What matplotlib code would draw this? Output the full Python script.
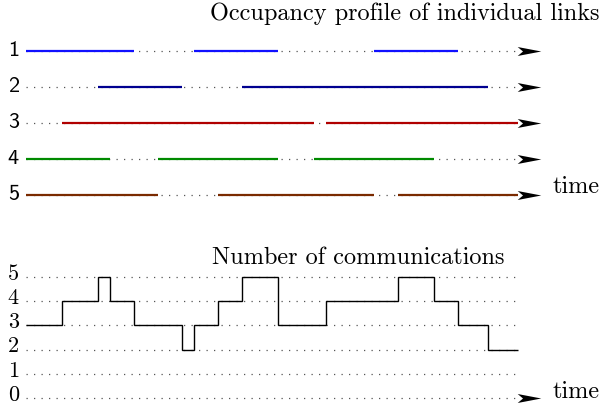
import matplotlib
matplotlib.use("Agg")
import matplotlib.pyplot as plt
from matplotlib.path import Path
import numpy as np

# ---------------- data ----------------
link_names = ["1", "2", "3", "4", "5"]
link_colors = ["#1010ff", "#000090", "#b00000", "#008a00", "#7a2a00"]
# busy intervals (start, end) in time units for each link
link1_on = [(0, 9), (14, 21), (29, 36)]
link2_on = [(6, 13), (18, 38.5)]
link3_on = [(3, 24), (25, 41)]
link4_on = [(0, 7), (11, 21), (24, 34)]
link5_on = [(0, 11), (16, 29), (31, 41)]
links_on = [link1_on, link2_on, link3_on, link4_on, link5_on]
t_end = 41

# number of communications (step function)
count_times = [0, 3, 6, 7, 9, 13, 14, 16, 18, 21, 25, 31, 34, 36, 38.5, 41]
count_values = [3, 4, 5, 4, 3, 2, 3, 4, 5, 3, 4, 5, 4, 3, 2]
count_levels = [0, 1, 2, 3, 4, 5]

title_top = "Occupancy profile of individual links"
title_bottom = "Number of communications"
time_label = "time"

# ---------------- figure ----------------
W, H = 603, 404
fig = plt.figure(figsize=(W / 100, H / 100), dpi=100)

px_per_t = 12.0
x0 = 26.0
xlim = (-x0 / px_per_t, (W - x0) / px_per_t)

# arrow marker (stealth-like)
arrow_path = Path([(1, 0), (-1, 0.38), (-0.55, 0), (-1, -0.38), (1, 0)],
                  [Path.MOVETO, Path.LINETO, Path.LINETO, Path.LINETO, Path.CLOSEPOLY])
arrow_t = (528.5 - x0) / px_per_t

dot_style = dict(color="#555555", lw=0.9, linestyle=(0, (1, 5.0)))
serif_size = 17.5
label_x = (19 - x0) / px_per_t

# top axes: pixels 0..222
top_h = 222
axt = fig.add_axes([0, 1 - top_h / H, 1, top_h / H])
y_first, y_step = 51.0, 36.0
axt.set_xlim(*xlim)
axt.set_ylim(1 + (top_h - y_first) / y_step, 1 - y_first / y_step)
axt.axis("off")

for k, (name, col, ons) in enumerate(zip(link_names, link_colors, links_on)):
    y = k + 1
    axt.plot([0, t_end], [y, y], **dot_style, zorder=1)
    for (a, b) in ons:
        axt.plot([a, b], [y, y], color=col, lw=1.6, solid_capstyle="butt", zorder=2)
    axt.plot([arrow_t], [y], marker=arrow_path, markersize=17, color="black",
             markeredgewidth=0, zorder=3)
    axt.text(label_x, y - 1.0 / y_step, name, family="cmss10", fontsize=16,
             ha="right", va="center")

# bottom axes: pixels 222..404
bot_top = 222
axb = fig.add_axes([0, 0, 1, (H - bot_top) / H])
v0_px, v_step = 398.0, 24.2
axb.set_xlim(*xlim)
axb.set_ylim(-(H - v0_px) / v_step, (v0_px - bot_top) / v_step)
axb.axis("off")

for lv in count_levels:
    axb.plot([0, t_end], [lv, lv], **dot_style, zorder=1)
    axb.text(label_x, lv + 3.0 / v_step, str(lv), family="cmr10", fontsize=16,
             ha="right", va="center")

axb.stairs(count_values, count_times, color="black", lw=1.0, baseline=None, zorder=2)
axb.plot([arrow_t], [0], marker=arrow_path, markersize=17, color="black",
         markeredgewidth=0, zorder=3)

# texts
fig.text(600 / W, 1 - 14 / H, title_top, family="cmr10", fontsize=serif_size,
         ha="right", va="center")
fig.text(504 / W, 1 - 258 / H, title_bottom, family="cmr10", fontsize=serif_size,
         ha="right", va="center")
fig.text(553 / W, 1 - 187 / H, time_label, family="cmr10", fontsize=serif_size,
         ha="left", va="center")
fig.text(553 / W, 1 - 392 / H, time_label, family="cmr10", fontsize=serif_size,
         ha="left", va="center")

fig.savefig("out.png", dpi=100)
